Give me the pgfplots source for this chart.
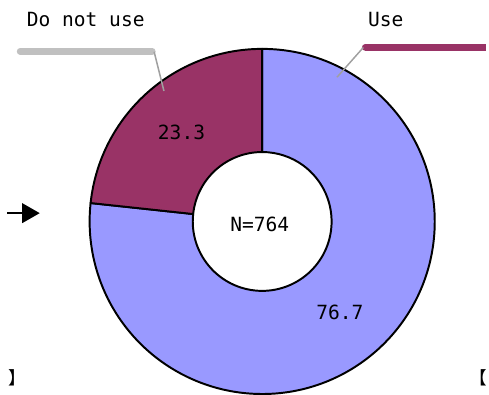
\documentclass[border=0pt]{standalone}
\usepackage{pgfplots}
\pgfplotsset{compat=1.18}
\usepackage{pgfplotstable}
\usepackage{fontspec}
\usetikzlibrary{arrows.meta,calc}
\newfontfamily\lab{DejaVu Sans Mono}
\newfontfamily\cjk{Noto Sans CJK JP}
\definecolor{usecol}{HTML}{9999FF}
\definecolor{notcol}{HTML}{993366}
\definecolor{barg}{HTML}{C0C0C0}
\definecolor{leadg}{HTML}{A0A0A0}
\pgfplotstableread{
label value
Use 76.7
DoNotUse 23.3
}\donutdata
\begin{document}
\pgfplotstablegetelem{0}{value}\of\donutdata
\let\vUse\pgfplotsretval
\pgfplotstablegetelem{1}{value}\of\donutdata
\let\vNot\pgfplotsretval
\pgfmathsetmacro{\aEnd}{90-3.6*\vUse}
\pgfmathsetmacro{\aNotEnd}{90+3.6*\vNot}
\begin{tikzpicture}
\begin{axis}[
  width=489pt, height=403pt, scale only axis,
  xmin=0, xmax=489, ymin=0, ymax=403, y dir=reverse,
  xtick=\empty, ytick=\empty,
  hide axis, clip=false,
]
\path (axis cs:0,0) rectangle (axis cs:489,403);
\coordinate (c) at (axis cs:260.5,226.5);
% Use slice (clockwise from top)
\filldraw[fill=usecol, draw=black, line width=2pt, line join=round]
  ($(c)+(90:176.5pt)$) arc[start angle=90, end angle=\aEnd, radius=176.5pt]
  -- ($(c)+(\aEnd:71pt)$) arc[start angle=\aEnd, end angle=90, radius=71pt] -- cycle;
% Do not use slice (counter-clockwise from top)
\filldraw[fill=notcol, draw=black, line width=2pt, line join=round]
  ($(c)+(90:176.5pt)$) arc[start angle=90, end angle=\aNotEnd, radius=176.5pt]
  -- ($(c)+(\aNotEnd:71pt)$) arc[start angle=\aNotEnd, end angle=90, radius=71pt] -- cycle;
% leader lines
\draw[barg, line width=7pt, line cap=round] (axis cs:13,52.5) -- (axis cs:148,52.5);
\draw[leadg, line width=1.5pt] (axis cs:150,53) -- (axis cs:160,93);
\draw[notcol, line width=7pt, line cap=butt] (axis cs:366,48.5) -- (axis cs:489,48.5);
\fill[notcol] (axis cs:366,48.5) circle[radius=3.5pt];
\draw[leadg, line width=1.5pt] (axis cs:364,48.5) -- (axis cs:337,79);
% labels
\node[font={\lab\fontsize{20}{24}\selectfont}] at (axis cs:80,20) {Do not use};
\node[font={\lab\fontsize{20}{24}\selectfont}] at (axis cs:387,20) {Use};
\node[font={\lab\fontsize{20}{24}\selectfont}] at (axis cs:178,135) {23.3};
\node[font={\lab\fontsize{20}{24}\selectfont}] at (axis cs:340,320) {76.7};
\node[font={\lab\fontsize{20}{24}\selectfont}] at (axis cs:258,230) {N=764};
% arrow
\draw[line width=2pt, -{Triangle[length=18pt,width=20pt]}] (axis cs:0,218) -- (axis cs:33,218);
% bracket fragments
\node[font={\cjk\fontsize{18}{20}\selectfont}, anchor=east, inner sep=0pt] at (axis cs:19,386) {】};
\node[font={\cjk\fontsize{18}{20}\selectfont}, anchor=west, inner sep=0pt] at (axis cs:472,386) {【};
\end{axis}
\end{tikzpicture}
\end{document}
